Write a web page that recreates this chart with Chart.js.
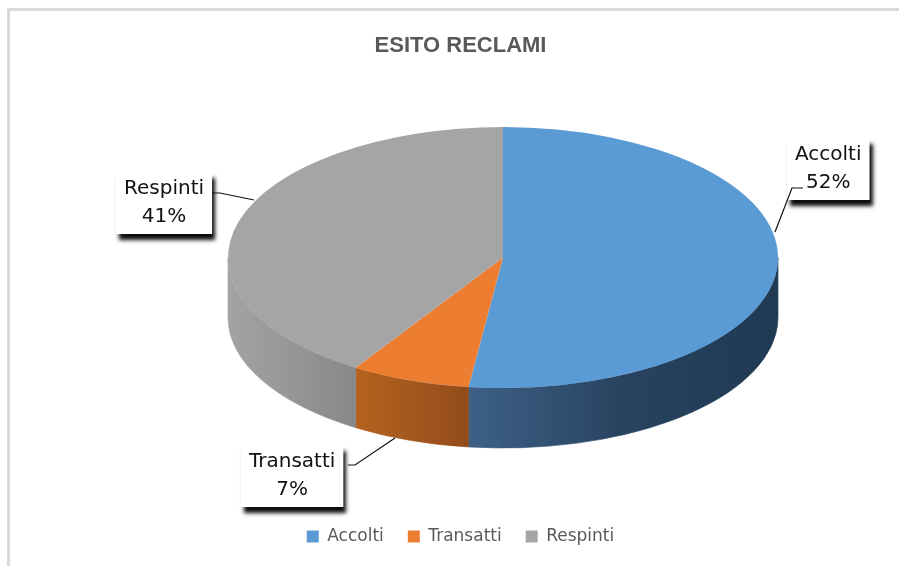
<!DOCTYPE html>
<html><head><meta charset="utf-8">
<script src="https://cdn.jsdelivr.net/npm/chart.js@4"></script>
<style>html,body{margin:0;padding:0;background:#fff;overflow:hidden;} #wrap{position:relative;width:899px;height:566px;}</style>
</head><body><div id="wrap"><canvas id="c"></canvas></div>
<script>
// ---- data ----
const chartTitle = 'ESITO RECLAMI';
const categories = ['Accolti', 'Transatti', 'Respinti'];
const percentValues = [52, 7, 41];

// ---- styles / layout ----
const topColors = ['#5B9BD5', '#ED7D31', '#A5A5A5'];
const sideColors = [['#3d6087', '#28435f', '#203a54'], ['#b5621f', '#a4581d', '#924b1b'], ['#a3a3a3', '#969696', '#888888']];
const GEO = {cx: 503, cy: 257.5, rx: 275, ry: 130.5, depth: 60};
const CALLOUTS = [
  {left: 787, top: 138, leader: [[803, 188], [792, 188], [775, 232]]},
  {left: 241, top: 445, leader: [[348, 465], [355, 465], [395, 438]]},
  {left: 116, top: 172, leader: [[212, 193], [220, 193], [254, 200]]}
];

const pie3d = {
  id: 'pie3d',
  beforeDraw(chart) {
    const ctx = chart.ctx;
    ctx.save();
    ctx.fillStyle = '#d9d9d9';
    ctx.fillRect(7, 8, chart.width - 7, 3);
    ctx.fillRect(7, 8, 3, chart.height - 8);
    ctx.restore();
  },
  beforeDatasetsDraw(chart) {
    const ctx = chart.ctx;
    const meta = chart.getDatasetMeta(0);
    const {cx, cy, rx, ry, depth} = GEO;
    meta.data.forEach((arc, i) => {
      for (let k = -1; k <= 1; k++) {
        const a1 = arc.startAngle + k * 2 * Math.PI, a2 = arc.endAngle + k * 2 * Math.PI;
        const s = Math.max(a1, 0), e = Math.min(a2, Math.PI);
        if (e <= s) continue;
        const xs = cx + rx * Math.cos(s), xe = cx + rx * Math.cos(e);
        const g = ctx.createLinearGradient(Math.min(xs, xe), 0, Math.max(xs, xe), 0);
        const cols = sideColors[i];
        cols.forEach((c, j) => g.addColorStop(j / (cols.length - 1), c));
        ctx.save();
        ctx.beginPath();
        ctx.ellipse(cx, cy, rx, ry, 0, s, e, false);
        ctx.ellipse(cx, cy + depth, rx, ry, 0, e, s, true);
        ctx.closePath();
        ctx.fillStyle = g;
        ctx.fill();
        ctx.strokeStyle = g;
        ctx.lineWidth = 0.6;
        ctx.stroke();
        ctx.restore();
      }
    });
    const a = meta.data[0];
    const r = a.outerRadius;
    ctx.save();
    ctx.translate(cx, cy);
    ctx.scale(rx / r, ry / r);
    ctx.translate(-a.x, -a.y);
  },
  afterDatasetsDraw(chart) {
    chart.ctx.restore();
  },
  afterDraw(chart) {
    const ctx = chart.ctx;
    ctx.save();
    ctx.font = '20px "DejaVu Sans"';
    CALLOUTS.forEach((c, i) => {
      const l1 = categories[i], l2 = percentValues[i] + '%';
      const w = Math.max(ctx.measureText(l1).width, ctx.measureText(l2).width) + 16;
      const h = 62;
      ctx.save();
      ctx.shadowColor = 'rgba(0,0,0,0.95)';
      ctx.shadowBlur = 4;
      ctx.shadowOffsetX = 3;
      ctx.shadowOffsetY = 6;
      ctx.fillStyle = '#fff';
      ctx.fillRect(c.left, c.top, w, h);
      ctx.restore();
      ctx.fillStyle = '#111';
      ctx.textAlign = 'center';
      ctx.textBaseline = 'alphabetic';
      ctx.fillText(l1, c.left + w / 2, c.top + 22);
      ctx.fillText(l2, c.left + w / 2, c.top + 50);
      ctx.beginPath();
      c.leader.forEach((p, j) => j ? ctx.lineTo(p[0], p[1]) : ctx.moveTo(p[0], p[1]));
      ctx.strokeStyle = '#111';
      ctx.lineWidth = 1.2;
      ctx.stroke();
    });
    ctx.restore();
  }
};

new Chart(document.getElementById('c'), {
  type: 'pie',
  data: {
    labels: categories,
    datasets: [{data: percentValues, backgroundColor: topColors, borderWidth: 0}]
  },
  options: {
    responsive: true,
    maintainAspectRatio: false,
    animation: false,
    events: [],
    layout: {padding: {left: 22, right: 0, top: 0, bottom: 11}},
    plugins: {
      title: {display: true, text: chartTitle, color: '#595959', font: {family: '"Liberation Sans", Arial', size: 22, weight: 'bold'}, padding: {top: 33, bottom: 10}},
      legend: {position: 'bottom', labels: {boxWidth: 12, boxHeight: 12, padding: 24, color: '#595959', font: {family: '"DejaVu Sans"', size: 17}}},
      tooltip: {enabled: false}
    }
  },
  plugins: [pie3d]
});
</script>
</body></html>
